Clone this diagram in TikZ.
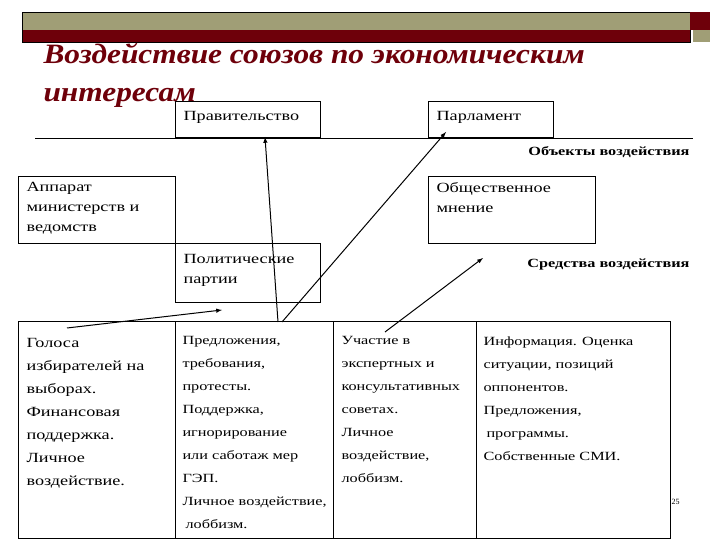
\documentclass[tikz,border=0pt]{standalone}
\usepackage{fontspec}
\setmainfont{Liberation Serif}
\newfontfamily\widef[FakeStretch=1.3]{Liberation Serif}
\newfontfamily\titf[FakeStretch=1.12]{Liberation Serif}
\begin{document}
\begin{tikzpicture}[x=1pt,y=-1pt,
  box/.style={draw,line width=0.6pt,inner sep=0},
  txt/.style={anchor=north west,align=left,font=\widef\fontsize{13}{23}\selectfont},
  arr/.style={-latex,line width=1pt}]
\definecolor{olive}{RGB}{160,158,118}
\definecolor{dred}{RGB}{110,0,10}
\useasboundingbox (0,0) rectangle (720,540);
% header bar
\fill[olive] (22,12) rectangle (690,30);
\fill[dred] (22,30) rectangle (690,42);
\draw[line width=0.5pt] (22,12) rectangle (690,42);
\fill[dred] (690,12) rectangle (710,30);
\fill[olive] (693,30) rectangle (710,42);
\node[anchor=west,text=dred,font=\titf\fontsize{28}{38}\selectfont\bfseries\itshape,align=left] (title) at (40,75) {Воздействие союзов по экономическим\\интересам};
% top boxes
\draw[box] (175,101) rectangle (320,137);
\node[txt,font=\widef\fontsize{14}{20}\selectfont] (prav) at (180,108) {Правительство};
\coordinate (pravb) at (265,137);
\draw[box] (428,101) rectangle (553,137);
\node[txt,font=\widef\fontsize{14}{20}\selectfont] (parl) at (433,108) {Парламент};
\coordinate (parlb) at (446,132);
\draw[line width=0.6pt] (35,138) -- (693,138);
\node[anchor=north east,font=\widef\fontsize{12.5}{15}\selectfont\bfseries] (obj) at (693,143) {Объекты воздействия};
% middle boxes
\draw[box] (18,176) rectangle (175,243);
\node[txt,font=\widef\fontsize{14}{20}\selectfont] (app) at (23,179) {Аппарат\\министерств и\\ведомств};
\draw[box] (428,176) rectangle (595,243);
\node[txt,font=\widef\fontsize{14}{20}\selectfont] (obsh) at (433,179) {Общественное\\мнение};
\coordinate (obshb) at (483,258);
\draw[box] (175,243) rectangle (320,302);
\node[txt,font=\widef\fontsize{14}{20}\selectfont] (pol) at (180,251) {Политические\\партии};
\coordinate (polb) at (222,310);
\node[anchor=north east,font=\widef\fontsize{12.5}{15}\selectfont\bfseries] (sred) at (693,255) {Средства воздействия};
% table
\draw[line width=1pt] (18,321) rectangle (670,538);
\draw[line width=0.8pt] (175,321) -- (175,538) (333,321) -- (333,538) (476,321) -- (476,538);
\node[txt,font=\widef\fontsize{14}{23}\selectfont] (c1) at (23,335) {Голоса\\избирателей на\\выборах.\\Финансовая\\поддержка.\\Личное\\воздействие.};
\node[txt,font=\widef\fontsize{12.5}{23}\selectfont] (c2) at (179,333) {Предложения,\\требования,\\протесты.\\Поддержка,\\игнорирование\\или саботаж мер\\ГЭП.\\Личное воздействие,\\\hspace*{3pt}лоббизм.};
\node[txt,font=\widef\fontsize{12.5}{23}\selectfont] (c3) at (338,333) {Участие в\\экспертных и\\консультативных\\советах.\\Личное\\воздействие,\\лоббизм.};
\node[txt,font=\widef\fontsize{12.5}{23}\selectfont] (c4) at (480,333) {Информация. Оценка\\ситуации, позиций\\оппонентов.\\Предложения,\\\hspace*{3pt}программы.\\Собственные  СМИ.};
\node[anchor=west,font=\fontsize{8}{9}\selectfont] (pg) at (668,502) {25};
% arrows
\coordinate (a1) at (67,328);
\coordinate (a2) at (278,322);
\coordinate (a3) at (282,322);
\coordinate (a4) at (385,332);
\draw[arr] (a1) -- (polb);
\draw[arr] (a2) -- (pravb);
\draw[arr] (a3) -- (parlb);
\draw[arr] (a4) -- (obshb);
\end{tikzpicture}
\end{document}
